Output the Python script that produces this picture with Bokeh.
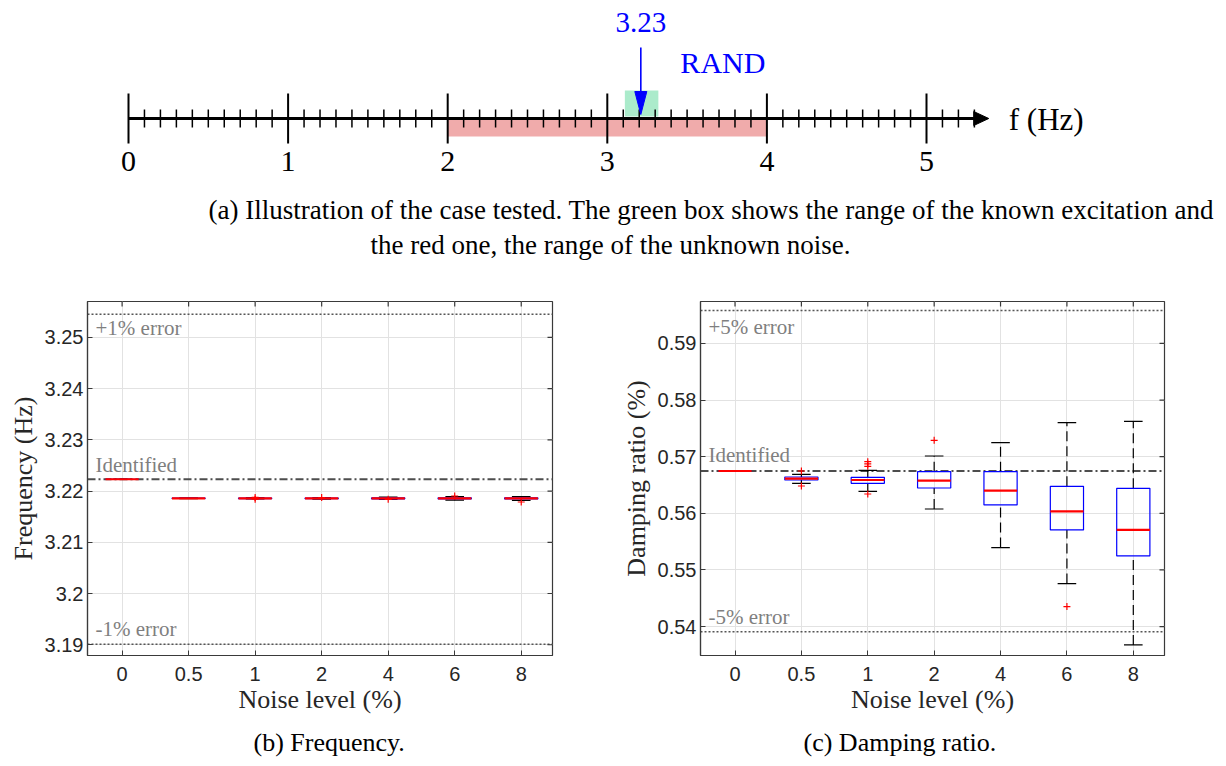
import numpy as np
from bokeh.plotting import figure
from bokeh.layouts import column, row
from bokeh.models import Range1d, Span, FixedTicker, Title, CustomJSTickFormatter
from bokeh.core.properties import value
from bokeh.embed import file_html
from bokeh.resources import INLINE

SERIF = "Liberation Serif"
SANS = "Liberation Sans"
FRAME = "#3a3a3a"

# ---------------- (a) frequency axis illustration ----------------
AXIS_MAJOR = [0, 1, 2, 3, 4, 5]
AXIS_LAST_MINOR = 5.3
AXIS_ARROW_TIP = 5.39
NOISE_BAND = [2.0, 4.0]          # unknown noise range (Hz)
EXCITATION_BAND = [3.11, 3.32]   # known excitation range (Hz)
EXCITATION_FREQ = 3.21
EXCITATION_LABEL = "3.23"
EXCITATION_NAME = "RAND"
AXIS_NAME = "f (Hz)"
CAPTION_A = [
    "(a) Illustration of the case tested. The green box shows the range of the known excitation and",
    "the red one, the range of the unknown noise.",
]

# ---------------- (b), (c) box plots ----------------
NOISE_LEVELS = ["0", "0.5", "1", "2", "4", "6", "8"]

FREQ_IDENTIFIED = 3.2223
FREQ_PLUS = 3.2545
FREQ_MINUS = 3.1901
FREQ_MED = [3.2223, 3.21858, 3.21858, 3.21858, 3.21858, 3.21857, 3.21857]
FREQ_Q1 = [3.2223, 3.21855, 3.21853, 3.21852, 3.21849, 3.21846, 3.21845]
FREQ_Q3 = [3.2223, 3.21861, 3.21863, 3.21864, 3.21866, 3.21868, 3.21869]
FREQ_LO = [3.2223, 3.21850, 3.21845, 3.21842, 3.21835, 3.21822, 3.21818]
FREQ_HI = [3.2223, 3.21866, 3.21870, 3.21874, 3.21880, 3.21890, 3.21893]
FREQ_OUT_POS = [3, 3, 4, 5, 6, 7]
FREQ_OUT_VAL = [3.21875, 3.21840, 3.21872, 3.21838, 3.21903, 3.21786]
FREQ_YTICKS = [3.19, 3.2, 3.21, 3.22, 3.23, 3.24, 3.25]

DAMP_IDENTIFIED = 0.56747
DAMP_PLUS = 0.5958
DAMP_MINUS = 0.5391
DAMP_MED = [0.56747, 0.56612, 0.56588, 0.56576, 0.56400, 0.56035, 0.55706]
DAMP_Q1 = [0.56747, 0.56588, 0.56529, 0.56447, 0.56147, 0.55706, 0.55247]
DAMP_Q3 = [0.56747, 0.56641, 0.56635, 0.56735, 0.56735, 0.56476, 0.56441]
DAMP_LO = [0.56747, 0.56529, 0.56388, 0.56076, 0.55394, 0.54759, 0.53676]
DAMP_HI = [0.56747, 0.56688, 0.56759, 0.57012, 0.57247, 0.57600, 0.57624]
DAMP_OUT_POS = [2, 2, 3, 3, 3, 3, 4, 6]
DAMP_OUT_VAL = [0.56747, 0.56482, 0.56912, 0.56871, 0.56829, 0.56341, 0.57288, 0.54353]
DAMP_YTICKS = [0.54, 0.55, 0.56, 0.57, 0.58, 0.59]

# ================= top figure =================
PX_PER_HZ = 159.6
X0 = -128 / PX_PER_HZ
TOP_W, TOP_H = 1220, 278
top = figure(width=TOP_W, height=TOP_H, x_range=Range1d(X0, X0 + TOP_W / PX_PER_HZ),
             y_range=Range1d(-160, 118), output_backend="svg", toolbar_location=None,
             x_axis_type=None, y_axis_type=None, min_border=0, outline_line_color=None)

top.quad(left=[NOISE_BAND[0]], right=[NOISE_BAND[1]], bottom=[-18], top=[0],
         fill_color="#f0abab", line_color=None)
top.quad(left=[EXCITATION_BAND[0]], right=[EXCITATION_BAND[1]], bottom=[2], top=[28],
         fill_color="#abebcb", line_color=None)

minor = [round(v, 1) for v in np.arange(0, AXIS_LAST_MINOR + 1e-9, 0.1)]
minor = [v for v in minor if abs(v - round(v)) > 1e-9]
top.segment(x0=minor, y0=-9, x1=minor, y1=9, line_color="black", line_width=1.5)
top.segment(x0=AXIS_MAJOR, y0=-25, x1=AXIS_MAJOR, y1=25, line_color="black", line_width=2)
head_len = 15 / PX_PER_HZ
top.segment(x0=[0], y0=[0], x1=[AXIS_ARROW_TIP - head_len * 0.6], y1=[0], line_color="black", line_width=3)
top.patch(x=[AXIS_ARROW_TIP - head_len, AXIS_ARROW_TIP, AXIS_ARROW_TIP - head_len], y=[7, 0, -7],
          fill_color="black", line_color="black")

top.text(x=AXIS_MAJOR, y=-43, text=[str(v) for v in AXIS_MAJOR], text_font=value(SERIF),
         text_font_size="30px", text_align="center", text_baseline="middle", text_color="black")
top.text(x=[AXIS_ARROW_TIP], y=[-1], text=[AXIS_NAME], x_offset=20, text_font=value(SERIF),
         text_font_size="31px", text_align="left", text_baseline="middle", text_color="black")

hw = 6 / PX_PER_HZ
top.segment(x0=[EXCITATION_FREQ], y0=[71], x1=[EXCITATION_FREQ], y1=[20], line_color="blue", line_width=1.6)
top.patch(x=[EXCITATION_FREQ - hw, EXCITATION_FREQ + hw, EXCITATION_FREQ], y=[27, 27, 4],
          fill_color="blue", line_color="blue")
top.text(x=[EXCITATION_FREQ], y=[96], text=[EXCITATION_LABEL], text_font=value(SERIF),
         text_font_size="29px", text_align="center", text_baseline="middle", text_color="blue")
top.text(x=[EXCITATION_BAND[1]], y=[56], text=[EXCITATION_NAME], x_offset=22, text_font=value(SERIF),
         text_font_size="30px", text_align="left", text_baseline="middle", text_color="blue")

top.text(x=[X0 + 208 / PX_PER_HZ], y=[-91], text=[CAPTION_A[0]], text_font=value(SERIF),
         text_font_size="27px", text_align="left", text_baseline="middle", text_color="black")
top.text(x=[X0 + 610 / PX_PER_HZ], y=[-126], text=[CAPTION_A[1]], text_font=value(SERIF),
         text_font_size="27px", text_align="center", text_baseline="middle", text_color="black")


# ================= box plots =================
def style_axis(ax):
    ax.axis_line_color = FRAME
    ax.axis_line_width = 1.2
    ax.major_tick_line_color = FRAME
    ax.major_tick_in = 5
    ax.major_tick_out = 0
    ax.minor_tick_line_color = None
    ax.major_label_text_font = SANS
    ax.major_label_text_font_size = "20px"
    ax.major_label_text_color = "#262626"
    ax.axis_label_text_font = SERIF
    ax.axis_label_text_font_size = "26px"
    ax.axis_label_text_font_style = "normal"
    ax.axis_label_text_color = "#262626"


X_RANGE = (0.48, 7.47)


def make_box(width, bl, br, yr, yticks, ylabel, med, q1, q3, lo, hi, out_pos, out_val,
             ident, plus, minus, notes, caption, cap_offset):
    pos = list(range(1, len(NOISE_LEVELS) + 1))
    p = figure(width=width, height=488, x_range=Range1d(*X_RANGE), y_range=Range1d(*yr),
               output_backend="svg", toolbar_location=None,
               min_border_left=bl, min_border_right=br, min_border_top=23, min_border_bottom=110)
    p.outline_line_color = FRAME
    p.outline_line_width = 1.2
    xt = FixedTicker(ticks=pos)
    yt = FixedTicker(ticks=yticks)
    xfmt = CustomJSTickFormatter(args=dict(labels=NOISE_LEVELS), code="return labels[Math.round(tick) - 1];")
    yfmt = CustomJSTickFormatter(code="return String(tick);")
    xa = p.xaxis[0]
    ya = p.yaxis[0]
    xa.ticker = xt
    xa.formatter = xfmt
    ya.ticker = yt
    ya.formatter = yfmt
    style_axis(xa)
    style_axis(ya)
    xa.axis_label = "Noise level (%)"
    ya.axis_label = ylabel
    xa.major_label_standoff = 11
    xa.axis_label_standoff = 1
    ya.major_label_standoff = 4
    ya.axis_label_standoff = 4
    p.xgrid.ticker = xt
    p.ygrid.ticker = yt
    p.grid.grid_line_color = "#e2e2e2"
    p.grid.grid_line_width = 1

    # inward ticks on the top and right edges of the box
    p.scatter(x=pos, y=yr[1], marker="dash", angle=np.pi / 2, size=10, line_color=FRAME, line_width=1.2)
    p.scatter(x=X_RANGE[1], y=yticks, marker="dash", size=10, line_color=FRAME, line_width=1.2)

    p.add_layout(Span(location=plus, dimension="width", line_color="#555555", line_dash="2 2",
                      line_width=1.5, level="underlay"))
    p.add_layout(Span(location=minus, dimension="width", line_color="#555555", line_dash="2 2",
                      line_width=1.5, level="underlay"))
    p.add_layout(Span(location=ident, dimension="width", line_color="#4d4d4d", line_dash="8 3 2 3",
                      line_width=1.8, level="underlay"))

    for txt, yv, base, off in notes:
        p.text(x=[0.6], y=[yv], text=[txt], y_offset=off, text_font=value(SERIF), text_font_size="21px",
               text_align="left", text_baseline=base, text_color="#7f7f7f")

    cap = 0.14
    half = 0.25
    p.segment(x0=pos, y0=q3, x1=pos, y1=hi, line_color="black", line_dash="10 5", line_width=1.2)
    p.segment(x0=pos, y0=lo, x1=pos, y1=q1, line_color="black", line_dash="10 5", line_width=1.2)
    p.segment(x0=[x - cap for x in pos], y0=hi, x1=[x + cap for x in pos], y1=hi, line_color="black", line_width=1.2)
    p.segment(x0=[x - cap for x in pos], y0=lo, x1=[x + cap for x in pos], y1=lo, line_color="black", line_width=1.2)
    p.vbar(x=pos, width=2 * half, bottom=q1, top=q3, fill_color=None, line_color="blue", line_width=1.2)
    p.segment(x0=[x - half for x in pos], y0=med, x1=[x + half for x in pos], y1=med, line_color="red", line_width=2.2)
    p.scatter(x=out_pos, y=out_val, marker="cross", size=7, line_color="red", line_width=1.2)

    p.add_layout(Title(text=caption, align="left", offset=cap_offset, text_font=SERIF, text_font_size="26px",
                       text_font_style="normal", text_color="black", standoff=19), "below")
    return p


pb = make_box(617, 87, 65, (3.1879, 3.2570), FREQ_YTICKS, "Frequency (Hz)",
              FREQ_MED, FREQ_Q1, FREQ_Q3, FREQ_LO, FREQ_HI, FREQ_OUT_POS, FREQ_OUT_VAL,
              FREQ_IDENTIFIED, FREQ_PLUS, FREQ_MINUS,
              [("+1% error", FREQ_PLUS, "top", 2), ("Identified", FREQ_IDENTIFIED, "bottom", -2),
               ("-1% error", FREQ_MINUS, "bottom", -3)],
              "(b) Frequency.", 166)

pc = make_box(573, 83, 26, (0.53489, 0.5974), DAMP_YTICKS, "Damping ratio (%)",
              DAMP_MED, DAMP_Q1, DAMP_Q3, DAMP_LO, DAMP_HI, DAMP_OUT_POS, DAMP_OUT_VAL,
              DAMP_IDENTIFIED, DAMP_PLUS, DAMP_MINUS,
              [("+5% error", DAMP_PLUS, "top", 4), ("Identified", DAMP_IDENTIFIED, "bottom", -4),
               ("-5% error", DAMP_MINUS, "bottom", -3)],
              "(c) Damping ratio.", 103)

layout = column(top, row(pb, pc))
open("out.html", "w").write(file_html(layout, INLINE))
